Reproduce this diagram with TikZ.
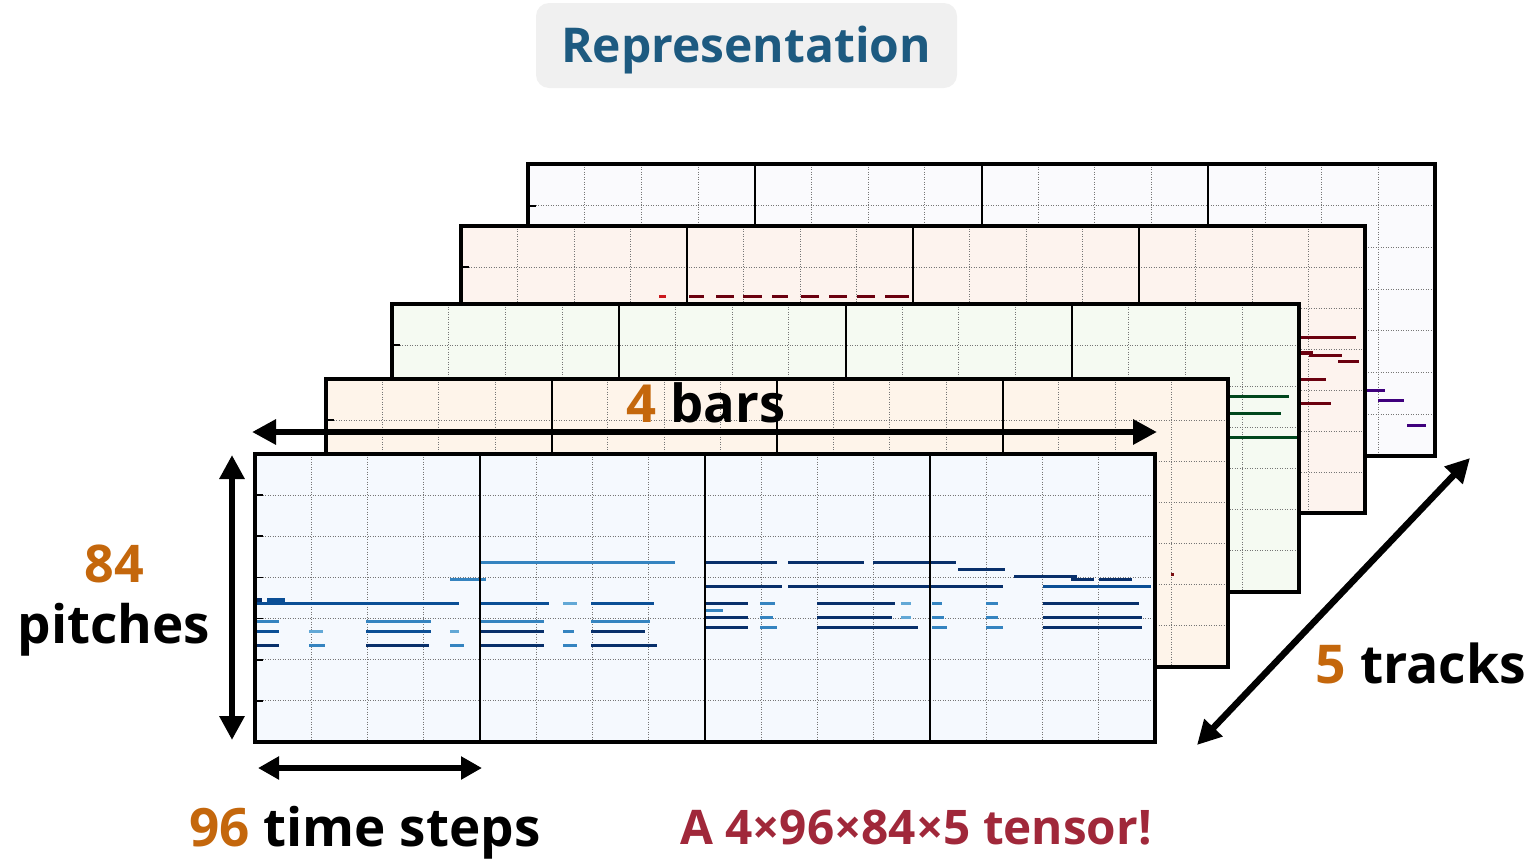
\documentclass[tikz,border=0pt]{standalone}
\usepackage{fontspec}
\setmainfont{Open Sans}
\usetikzlibrary{arrows.meta,calc}

\definecolor{titleblue}{HTML}{1D5A80}
\definecolor{titlebg}{HTML}{F0F0F0}
\definecolor{numorange}{HTML}{C4670C}
\definecolor{tensorred}{HTML}{A0283A}
\definecolor{gridgray}{HTML}{767676}
\definecolor{bgone}{HTML}{F5F9FE}
\definecolor{bgtwo}{HTML}{FEF4EA}
\definecolor{bgthree}{HTML}{F5FAF2}
\definecolor{bgfour}{HTML}{FDF3EE}
\definecolor{bgfive}{HTML}{FAFAFD}
\definecolor{bnavy}{HTML}{08306B}
\definecolor{bdark}{HTML}{0B4F96}
\definecolor{bmid}{HTML}{3584C0}
\definecolor{blight}{HTML}{62A8D6}
\definecolor{rdark}{HTML}{6B000F}
\definecolor{rbright}{HTML}{CB181D}
\definecolor{gdark}{HTML}{00471D}
\definecolor{pdark}{HTML}{3F007D}

% piano-roll panel: background, beat grid and pitch ticks
\newcommand{\rollpanel}[6]{%
  \node[rollbg, fill=#6, minimum width=#4pt, minimum height=#5pt] (#1) at ({#2+#4/2},{#3+#5/2}) {};
  \foreach \k in {1,...,15}{%
    \draw[beatline] ($(#1.north west)!\k/16!(#1.north east)$) -- ($(#1.south west)!\k/16!(#1.south east)$);}
  \foreach \k in {1,...,6}{%
    \draw[beatline] ($(#1.north west)!\k/7!(#1.south west)$) -- ($(#1.north east)!\k/7!(#1.south east)$);
    \draw[pitchtick] ($(#1.north west)!\k/7!(#1.south west)$) -- ++(8,0);}
}
% bar separators and outer frame of a panel
\newcommand{\rollframe}[1]{%
  \foreach \k in {1,2,3}{%
    \draw[barline] ($(#1.north west)!\k/4!(#1.north east)$) -- ($(#1.south west)!\k/4!(#1.south east)$);}
  \draw[frameline] (#1.north west) rectangle (#1.south east);}
% notes of one colour on one pitch row: colour, y, list of start/end
\newcommand{\pnotes}[3]{%
  \foreach \na/\nb in {#3}{\draw[notestroke,#1] (\na,#2) -- (\nb,#2);}}

\begin{document}
\begin{tikzpicture}[x=1pt,y=-1pt,
  rollbg/.style={draw=none, inner sep=0pt, outer sep=0pt},
  beatline/.style={gridgray, line width=0.9pt, dash pattern=on 1pt off 1.5pt},
  barline/.style={black, line width=2pt},
  frameline/.style={black, line width=4pt, line join=miter},
  pitchtick/.style={black, line width=1.6pt},
  notestroke/.style={line width=3pt},
  dimarrow/.style={line width=6.5pt, {Triangle[length=24pt,width=24pt]}-{Triangle[length=24pt,width=24pt]}},
  smallarrow/.style={line width=5.5pt, {Triangle[length=21pt,width=22pt]}-{Triangle[length=21pt,width=22pt]}},
  lbl/.style={inner sep=0pt, anchor=base},
  titlebox/.style={fill=titlebg, rounded corners=13pt, minimum width=421pt, minimum height=85pt, inner sep=0pt},
]
\useasboundingbox (0,0) rectangle (1532,860);

% title
\node[titlebox] (titlebg) at (746.5,45.5) {};
\node[lbl, text=titleblue, font=\fontsize{48}{56}\selectfont\bfseries] (title) at (746,62) {Representation};

% track 5
\rollpanel{rollE}{528}{164}{907}{292}{bgfive}
\pnotes{pdark}{390}{1350/1385}
\pnotes{pdark}{400}{1378/1404}
\pnotes{pdark}{425}{1407/1426}
\rollframe{rollE}

% track 4
\rollpanel{rollD}{461}{226}{904}{287}{bgfour}
\pnotes{rbright}{296}{659/666}
\pnotes{rdark}{296}{689/704, 716/734, 743/762, 772/788, 801/819, 829/847, 857/875, 885/909}
\pnotes{rdark}{337}{1260/1356}
\draw[notestroke, line width=4pt, rdark] (1260,353) -- (1313,353);
\pnotes{rdark}{355}{1309/1342}
\pnotes{rdark}{361}{1338/1359}
\pnotes{rdark}{379}{1260/1326}
\pnotes{rdark}{403}{1260/1331}
\rollframe{rollD}

% track 3
\rollpanel{rollC}{392}{304}{907}{288}{bgthree}
\pnotes{gdark}{396}{1200/1289}
\pnotes{gdark}{413}{1200/1281}
\pnotes{gdark}{437}{1200/1297}
\rollframe{rollC}

% track 2
\rollpanel{rollB}{326}{379}{902}{288}{bgtwo}
\fill[rbright!60!black] (1171,573) rectangle ++(2.5,2.5);
\rollframe{rollB}

% track 1
\rollpanel{rollA}{255}{454}{900}{288}{bgone}
\draw[notestroke, line width=4pt, bnavy] (257,600) -- (262,600);
\draw[notestroke, line width=4pt, bdark] (267,600) -- (285,600);
\pnotes{bmid}{562}{479/675}
\pnotes{bnavy}{562}{705/777, 788/864, 873/956}
\pnotes{bnavy}{569}{958/1005}
\pnotes{bnavy}{576}{1014/1077}
\pnotes{bnavy}{579}{1071/1094, 1099/1132}
\pnotes{bmid}{579}{450/486}
\pnotes{bnavy}{586}{705/782, 788/1003}
\pnotes{bdark}{586}{1043/1151}
\pnotes{bdark}{603}{257/459, 479/549, 591/654}
\pnotes{blight}{603}{563/577, 901/911}
\pnotes{bnavy}{603}{705/748, 817/895, 1043/1139}
\pnotes{bmid}{603}{760/775, 932/942, 986/998}
\pnotes{bmid}{610}{705/723}
\pnotes{bnavy}{617}{705/748, 817/892, 1043/1142}
\pnotes{bmid}{617}{760/773, 932/944, 986/998}
\pnotes{blight}{617}{901/911}
\pnotes{bmid}{621}{257/279, 366/431, 479/544, 591/650}
\pnotes{bnavy}{627}{705/748, 817/918, 1043/1142}
\pnotes{bmid}{627}{760/777, 932/947, 986/1003}
\pnotes{bdark}{631}{257/279, 366/431}
\pnotes{blight}{631}{309/323, 450/459}
\pnotes{bnavy}{631}{479/544, 591/645}
\pnotes{bmid}{631}{563/574}
\pnotes{bnavy}{645}{257/279, 366/429, 479/544, 591/657}
\pnotes{bmid}{645}{309/325, 450/464, 563/577}
\rollframe{rollA}

% dimension arrows
\coordinate (barsL) at (252,432);
\coordinate (barsR) at (1157,432);
\coordinate (pitchT) at (232,455);
\coordinate (pitchB) at (232,740);
\coordinate (stepL) at (258,768);
\coordinate (stepR) at (482,768);
\coordinate (trackA) at (1197,745);
\coordinate (trackB) at (1470,458);
\draw[dimarrow] (barsL) -- (barsR);
\draw[dimarrow] (pitchT) -- (pitchB);
\draw[smallarrow] (stepL) -- (stepR);
\draw[dimarrow] (trackA) -- (trackB);

% labels
\node[lbl, font=\fontsize{52.5}{60}\selectfont\bfseries] (bars) at (706,422) {\textcolor{numorange}{4} bars};
\node[lbl, text=numorange, font=\fontsize{52}{60}\selectfont\bfseries] (pitchnum) at (114,582) {84};
\node[lbl, font=\fontsize{53}{60}\selectfont\bfseries] (pitches) at (114,643) {pitches};
\node[lbl, font=\fontsize{53.5}{62}\selectfont\bfseries] (tracks) at (1421,683) {\textcolor{numorange}{5} tracks};
\node[lbl, font=\fontsize{53}{60}\selectfont\bfseries] (steps) at (365,846) {\textcolor{numorange}{96} time steps};
\node[lbl, text=tensorred, font=\fontsize{47.7}{56}\selectfont\bfseries] (tensor) at (916,844) {A 4×96×84×5 tensor!};
\end{tikzpicture}
\end{document}
